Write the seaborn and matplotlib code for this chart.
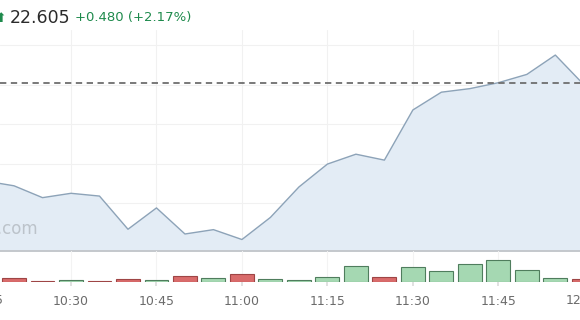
import numpy as np
import pandas as pd
import matplotlib
matplotlib.use("Agg")
import matplotlib.pyplot as plt
import matplotlib.transforms as mtrans
import seaborn as sns

# ---- data ----
times = ["10:15", "10:20", "10:25", "10:30", "10:35", "10:40", "10:45", "10:50",
         "10:55", "11:00", "11:05", "11:10", "11:15", "11:20", "11:25", "11:30",
         "11:35", "11:40", "11:45", "11:50", "11:55", "12:00"]
price = [22.356, 22.344, 22.314, 22.325, 22.318, 22.234, 22.288, 22.222,
         22.233, 22.208, 22.264, 22.341, 22.399, 22.424, 22.409, 22.536,
         22.581, 22.590, 22.605, 22.626, 22.675, 22.600]
volume = [30, 40, 10, 20, 10, 30, 20, 63, 40, 83, 30, 20, 50, 163, 53, 153,
          110, 180, 220, 120, 40, 30]
direction = ["up", "down", "down", "up", "down", "down", "up", "down", "up", "down", "up",
             "up", "up", "up", "down", "up", "up", "up", "up", "up", "up", "down"]
tick_labels = ["10:15", "10:30", "10:45", "11:00", "11:15", "11:30", "11:45", "12:00"]
last_price = 22.605
header_price = "22.605"
header_change = "+0.480 (+2.17%)"

def to_min(s):
    h, m = s.split(":")
    return (int(h) - 10) * 60 + int(m)

df = pd.DataFrame({"t": [to_min(s) for s in times], "price": price,
                   "volume": volume, "dir": direction})
tick_pos = [to_min(s) for s in tick_labels]

sns.set_theme(style="white")
plt.rcParams['font.family'] = ['DejaVu Sans']

W, H = 580, 320
fig = plt.figure(figsize=(W / 100, H / 100), dpi=100)

xlim = (17.54, 119.33)
inside = [(p, l) for p, l in zip(tick_pos, tick_labels) if xlim[0] <= p <= xlim[1]]
outside = [(p, l) for p, l in zip(tick_pos, tick_labels) if not (xlim[0] <= p <= xlim[1])]

# main price axes: pixel y 30..251
ax = fig.add_axes([0, 1 - 251 / H, 1, (251 - 30) / H])
ax.fill_between(df["t"], df["price"], 22.0, color="#e3ecf5", zorder=1, linewidth=0)
sns.lineplot(data=df, x="t", y="price", ax=ax, color="#8da3b8", linewidth=1.0, zorder=3)
line = ax.axhline(last_price, color="#6e6e6e", linewidth=1.3, zorder=4)
line.set_dashes((3.5, 2.5))
ax.set_yticks([22.2, 22.3, 22.4, 22.5, 22.6, 22.7])
ax.set_xticks(tick_pos)
ax.set_xlim(*xlim)
ax.set_ylim(22.605 - (251 - 82.7) / 395, 22.605 + (82.7 - 30) / 395)
ax.grid(True, color="#f1f1f1", linewidth=0.8, zorder=0)
ax.set_axisbelow(True)
ax.tick_params(left=False, bottom=False, labelleft=False, labelbottom=False)
ax.set_xlabel("")
ax.set_ylabel("")
for s in ["top", "left", "right"]:
    ax.spines[s].set_visible(False)
ax.spines["bottom"].set_color("#c4c8cc")
ax.spines["bottom"].set_linewidth(1.4)
ax.spines["bottom"].set_zorder(5)

# watermark
ax.text(38 / W, (251 - 229) / (251 - 30), "J.com", transform=ax.transAxes,
        ha="right", va="center", fontsize=12, color="#bcc3ca", zorder=2)

# volume axes: pixel y 251..282.3
vax = fig.add_axes([0, 1 - 282.3 / H, 1, 31.3 / H])
colors = {"up": "#a5d8b2", "down": "#d96b6b"}
edges = {"up": "#4f7d5d", "down": "#9e4545"}
vax.bar(df["t"], df["volume"], width=4.2,
        color=[colors[d] for d in df["dir"]],
        edgecolor=[edges[d] for d in df["dir"]], linewidth=0.8, zorder=3)
vax.set_xticks([p for p, _ in inside])
vax.set_xticklabels([l for _, l in inside])
vax.set_xlim(*xlim)
vax.set_ylim(0, 313)
vax.grid(True, axis="x", color="#f3f3f3", linewidth=0.8, zorder=0)
vax.tick_params(left=False, labelleft=False, bottom=True, length=3, color="#dddddd",
                labelsize=9, labelcolor="#6b6b6b", pad=6)
for s in ["top", "left", "right", "bottom"]:
    vax.spines[s].set_visible(False)
vax.patch.set_alpha(0)

# labels of ticks just beyond the visible range (partly cut by the edge)
trans = mtrans.blended_transform_factory(vax.transData, fig.transFigure)
for p, l in outside:
    vax.text(p, 1 - 301 / H, l, transform=trans, ha="center", va="center",
             fontsize=9, color="#6b6b6b", clip_on=False)

# header
fig.text(-4 / W, 1 - 18 / H, "⬆", color="#1e8a4c", fontsize=9, ha="left", va="center")
fig.text(10 / W, 1 - 18 / H, header_price, color="#2b2b2b", fontsize=12.5,
         ha="left", va="center")
fig.text(75 / W, 1 - 18 / H, header_change, color="#1e8a4c", fontsize=9.5,
         ha="left", va="center")

fig.savefig("out.png", dpi=100)
